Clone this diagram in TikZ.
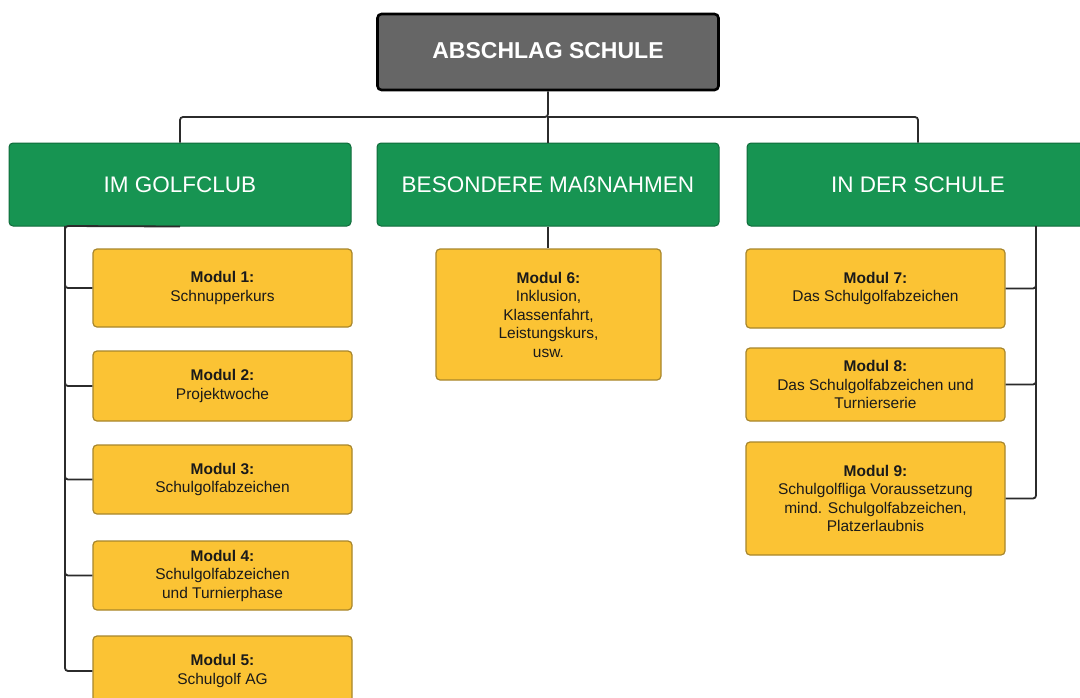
\documentclass[tikz,border=0pt]{standalone}
\usepackage{fontspec}
\setmainfont{Liberation Sans}
\definecolor{topgray}{HTML}{666666}
\definecolor{gfill}{HTML}{179452}
\definecolor{gedge}{HTML}{0F6B3A}
\definecolor{yfill}{HTML}{FBC334}
\definecolor{yedge}{HTML}{A8862C}
\definecolor{linec}{HTML}{2B2B2B}
\definecolor{txt}{HTML}{1A1A1A}
\begin{document}
\begin{tikzpicture}[x=1pt,y=-1pt,
  topbox/.style={draw=black,line width=2.6pt,fill=topgray,rounded corners=4pt,
    minimum width=341pt,minimum height=76pt,inner sep=0pt,text=white,
    font=\fontsize{23}{27}\selectfont\bfseries},
  grbox/.style={draw=gedge,line width=1pt,fill=gfill,rounded corners=4pt,
    minimum width=342pt,minimum height=83pt,inner sep=0pt,text=white,
    font=\fontsize{22.5}{27}\selectfont},
  modbox/.style={draw=yedge,line width=1.2pt,fill=yfill,rounded corners=4pt,
    minimum width=259pt,inner sep=0pt,text=txt,align=center,
    font=\fontsize{15.5}{18.5}\selectfont},
  conn/.style={draw=linec,line width=1.8pt,rounded corners=3pt}]
\useasboundingbox (0,0) rectangle (1080,697);
\clip (0,0) rectangle (1080,697);
\fill[white] (0,0) rectangle (1080,697);

\node[topbox] (top) at (548,52) {\raisebox{3pt}{ABSCHLAG SCHULE}};

\node[grbox] (g1) at (180,184.5) {IM GOLFCLUB};
\node[grbox] (g2) at (548,184.5) {BESONDERE MAßNAHMEN};
\node[grbox] (g3) at (918,184.5) {IN DER SCHULE};

\node[modbox,minimum height=78pt] (m1) at (222.5,288) {\textbf{Modul 1:}\\Schnupperkurs};
\node[modbox,minimum height=70pt] (m2) at (222.5,386) {\textbf{Modul 2:}\\Projektwoche};
\node[modbox,minimum height=69pt] (m3) at (222.5,479.5) {\textbf{Modul 3:}\\Schulgolfabzeichen};
\node[modbox,minimum height=69pt] (m4) at (222.5,575.5) {\textbf{Modul 4:}\\Schulgolfabzeichen\\und Turnierphase};
\node[modbox,minimum height=70pt] (m5) at (222.5,671) {\textbf{Modul 5:}\\Schulgolf AG};

\node[modbox,minimum width=225pt,minimum height=131pt] (m6) at (548.5,314.5) {\textbf{Modul 6:}\\Inklusion,\\Klassenfahrt,\\Leistungskurs,\\usw.};

\node[modbox,minimum height=79pt] (m7) at (875.5,288.5) {\textbf{Modul 7:}\\Das Schulgolfabzeichen};
\node[modbox,minimum height=73pt] (m8) at (875.5,384.5) {\textbf{Modul 8:}\\Das Schulgolfabzeichen und\\Turnierserie};
\node[modbox,minimum height=113pt] (m9) at (875.5,498.5) {\textbf{Modul 9:}\\Schulgolfliga Voraussetzung\\mind. Schulgolfabzeichen,\\Platzerlaubnis};

% top connectors
\coordinate (hub) at (548,117);
\draw[conn] (top.south) -- (hub) -| (g1.north);
\draw[conn] (hub) -| (g3.north);
\draw[conn] (hub) -- (g2.north);

% left branch
\coordinate (lb) at (65,226);
\draw[conn] (g1.south) -- (lb) |- (m5.west);
\draw[conn] (lb) |- (m1.west);
\draw[conn] (lb) |- (m2.west);
\draw[conn] (lb) |- (m3.west);
\draw[conn] (lb) |- (m4.west);

% middle
\draw[conn] (g2.south) -- (m6.north -| g2.south);

% right branch
\coordinate (rb) at (1036,226);
\draw[conn] (rb) |- (m9.east);
\draw[conn] (rb) |- (m7.east);
\draw[conn] (rb) |- (m8.east);
\end{tikzpicture}
\end{document}
